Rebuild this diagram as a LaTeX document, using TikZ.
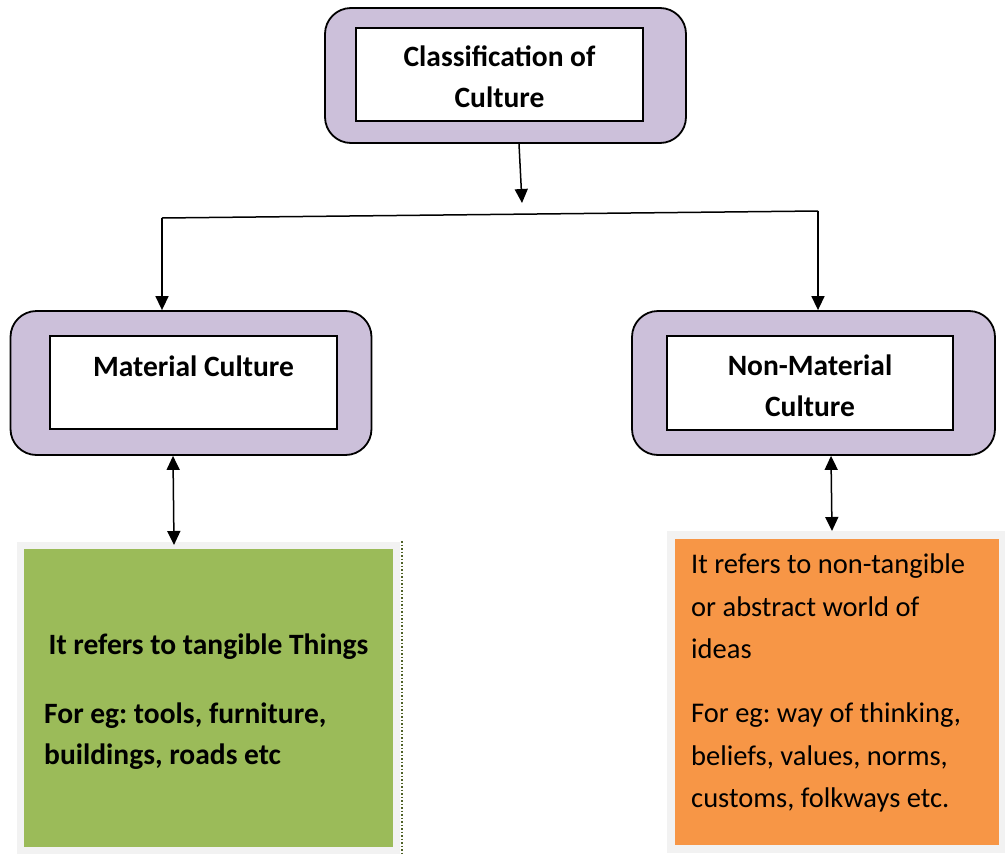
\documentclass[tikz,border=0pt]{standalone}
\usepackage{fontspec}
\setmainfont{Carlito}
\frenchspacing
\usetikzlibrary{arrows.meta}
\definecolor{lilac}{HTML}{CCC0DA}
\definecolor{leaf}{HTML}{9BBB59}
\definecolor{peach}{HTML}{F79646}
\definecolor{pale}{HTML}{F2F2F2}
\definecolor{dotgreen}{HTML}{4F6228}
\tikzset{
  outerbox/.style={draw=black, line width=1.8pt, fill=lilac, rounded corners=26pt, minimum width=361pt, minimum height=143pt, inner sep=0pt},
  innerbox/.style={draw=black, line width=1.4pt, fill=white, minimum width=287pt, minimum height=93pt, inner sep=0pt},
  headtext/.style={font=\fontsize{29.5}{41}\selectfont\bfseries, align=center, inner sep=0pt},
  boldtext/.style={font=\fontsize{29.5}{41}\selectfont\bfseries, align=left, inner sep=0pt, anchor=north west},
  plaintext/.style={font=\fontsize{28.5}{42.5}\selectfont, align=left, inner sep=0pt, anchor=north west},
  conn/.style={line width=1.5pt, -{Triangle[width=13pt,length=14pt]}},
  dconn/.style={line width=1.5pt, {Triangle[width=13pt,length=14pt]}-{Triangle[width=13pt,length=14pt]}},
  plain/.style={line width=1.5pt}
}
\begin{document}
\begin{tikzpicture}[x=1pt,y=-1pt]
\useasboundingbox (0,0) rectangle (1005,854);
% top
\node[outerbox, minimum height=135pt] (top) at (505.5,75.5) {};
\node[innerbox] (topin) at (499.5,74.5) {};
\node[headtext] (toptext) at (499.5,77) {Classification of\\Culture};
% left
\node[outerbox, minimum height=144pt] (left) at (191,383) {};
\node[innerbox] (leftin) at (193.5,382.5) {};
\node[headtext] (lefttext) at (193.5,366) {Material Culture};
% right
\node[outerbox, minimum height=144pt, minimum width=363pt] (right) at (813.5,383) {};
\node[innerbox, minimum width=286pt, minimum height=94pt] (rightin) at (810,383) {};
\node[headtext] (righttext) at (810,386) {Non-Material\\Culture};
% green
\node[draw=pale, line width=7pt, fill=leaf, minimum width=376pt, minimum height=305pt, inner sep=0pt] (green) at (208.5,697.5) {};
\draw[dotgreen, line width=1.5pt, dotted] (402,541) -- (402,854);
\node[boldtext, anchor=center] (gt1) at (208.5,647) {It refers to tangible Things};
\node[boldtext] (gt2) at (44,703) {For eg: tools, furniture,\\buildings, roads etc};
% orange
\node[draw=pale, line width=8pt, fill=peach, minimum width=332pt, minimum height=314pt, inner sep=0pt] (orange) at (837,692) {};
\node[plaintext] (ot1) at (691,554) {It refers to non-tangible\\or abstract world of\\ideas};
\node[plaintext] (ot2) at (691,703) {For eg: way of thinking,\\beliefs, values, norms,\\customs, folkways etc.};
% connectors
\coordinate (j1) at (522,203);
\coordinate (jl) at (162,218);
\coordinate (jr) at (818,211);
\draw[conn] (top.south -| 519,0) -- (j1);
\draw[plain] (jl) -- (jr);
\draw[conn] (jl) -- (left.north -| jl);
\draw[conn] (jr) -- (right.north -| jr);
\draw[dconn] (left.south -| 173,0) -- (174,545);
\draw[dconn] (right.south -| 831,0) -- (832,531);
\end{tikzpicture}
\end{document}
